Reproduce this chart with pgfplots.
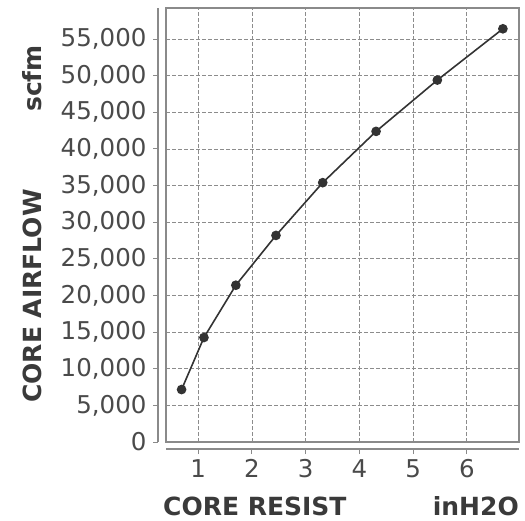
\documentclass[border=0pt]{standalone}
\usepackage{pgfplots}
\pgfplotsset{compat=1.18}
\usepackage{fontspec}
\setmainfont{DejaVu Sans}
\definecolor{tickcol}{HTML}{4A4A4A}
\definecolor{labcol}{HTML}{3A3A3A}
\definecolor{axisgray}{HTML}{8A8A8A}
\definecolor{gridgray}{HTML}{8C8C8C}
\definecolor{linecol}{HTML}{333333}
\begin{document}
\begin{tikzpicture}
\useasboundingbox (0,0) rectangle (525pt,520pt);
\begin{axis}[
  at={(166pt,78pt)}, anchor=south west,
  scale only axis, width=353pt, height=434pt,
  xmin=0.40, xmax=6.97, ymin=0, ymax=59240,
  axis x line=bottom, axis y line=left,
  axis x line shift=7pt, axis y line shift=8pt,
  axis line style={-, draw=axisgray, line width=1.4pt},
  tick align=outside, major tick length=5pt,
  tick style={draw=axisgray, line width=1pt},
  xtick={1,2,3,4,5,6}, ytick={0,5000,10000,15000,20000,25000,30000,35000,40000,45000,50000,55000},
  grid=major,
  grid style={draw=gridgray, line width=0.8pt, dash pattern=on 4pt off 2pt},
  ticklabel style={font=\fontsize{24.5}{28}\selectfont, text=tickcol},
  scaled y ticks=false,
  yticklabel style={xshift=-3pt, /pgf/number format/1000 sep={,}, /pgf/number format/assume math mode=true},
  xticklabel style={yshift=-2pt, /pgf/number format/assume math mode=true},
  clip=false,
]
\draw[axisgray, line width=1.3pt] (rel axis cs:0,0) rectangle (rel axis cs:1,1);
\addplot[color=linecol, line width=1.6pt, mark=*, mark size=4pt, mark options={fill=linecol, draw=linecol}]
  coordinates {(0.69,7160)(1.106,14260)(1.70,21400)(2.447,28200)(3.317,35400)(4.31,42400)(5.45,49400)(6.67,56400)};
\end{axis}
\node[anchor=base west, inner sep=0, font=\fontsize{25}{28}\selectfont\bfseries, text=labcol] at (163pt,5pt) {CORE RESIST};
\node[anchor=base east, inner sep=0, font=\fontsize{25}{28}\selectfont\bfseries, text=labcol] at (519pt,5pt) {inH2O};
\node[anchor=base west, rotate=90, inner sep=0, font=\fontsize{25}{28}\selectfont\bfseries, text=labcol] at (42pt,117pt) {CORE AIRFLOW};
\node[anchor=base east, rotate=90, inner sep=0, font=\fontsize{25}{28}\selectfont\bfseries, text=labcol] at (42pt,475pt) {scfm};
\end{tikzpicture}
\end{document}
